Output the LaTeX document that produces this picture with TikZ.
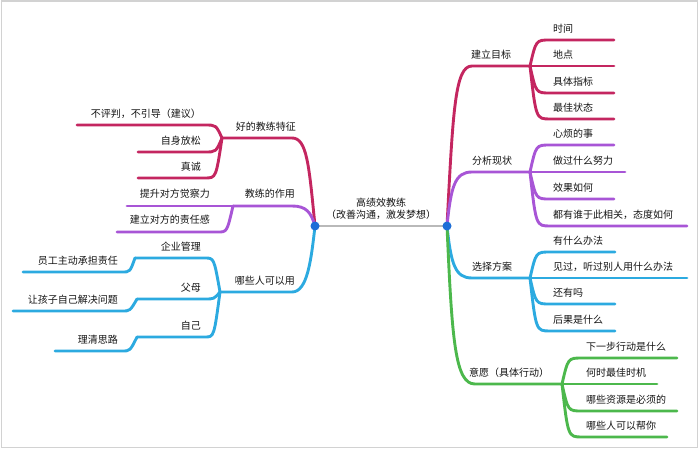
\documentclass[tikz,border=0pt]{standalone}
\usepackage{fontspec}
\setmainfont{Noto Sans CJK SC}
\usepackage{xcolor}
\definecolor{mapred}{RGB}{196,38,96}
\definecolor{mappurple}{RGB}{168,85,214}
\definecolor{mapblue}{RGB}{44,170,224}
\definecolor{mapgreen}{RGB}{76,184,76}
\definecolor{mapdot}{RGB}{30,110,215}
\definecolor{mapgray}{RGB}{185,185,185}
\definecolor{maptext}{RGB}{20,20,20}

\begin{document}
\begin{tikzpicture}[x=1pt,y=-1pt,
    br/.style={line width=2.9pt,line cap=round},
    lbl/.style={font=\fontsize{10}{12}\selectfont,text=maptext,inner sep=0pt}]
    \useasboundingbox (0,0) rectangle (700,452);
    \draw[gray!35,line width=1.2pt] (1.5,1) rectangle (697.5,447.5);

    % centre topic
    \coordinate (L) at (315,226);
    \coordinate (R) at (447,226);
    \draw[br,mapgray] (L) -- (R);
    \node[lbl,align=center] (topic) at (381,209) {高绩效教练\\（改善沟通，激发梦想）};

    % right: 建立目标
    \coordinate (goal) at (530,66);
    \draw[br,mapred] (R) .. controls (453,110) and (455,66) .. (472,66) -- (goal);
    \node[lbl,anchor=west] (goal-t) at (471,55) {建立目标};
    \foreach \y/\e/\t [count=\i] in {40/614/时间,66/614/地点,93/614/具体指标,119/614/最佳状态} {
        \coordinate (goal-\i) at (\e,\y);
        \draw[br,mapred] (goal) .. controls (536,\y) .. (550,\y) -- (goal-\i);
        \node[lbl,anchor=west] (goal-\i-t) at (553,\y-11) {\t};
    }

    % right: 分析现状
    \coordinate (now) at (530,172);
    \draw[br,mappurple] (R) .. controls (451,186) and (455,172) .. (472,172) -- (now);
    \node[lbl,anchor=west] (now-t) at (472,161) {分析现状};
    \foreach \y/\e/\t [count=\i] in {145/614/心烦的事,172/625/做过什么努力,199/614/效果如何,226/687/都有谁于此相关，态度如何} {
        \coordinate (now-\i) at (\e,\y);
        \draw[br,mappurple] (now) .. controls (536,\y) .. (550,\y) -- (now-\i);
        \node[lbl,anchor=west] (now-\i-t) at (553,\y-11) {\t};
    }

    % right: 选择方案
    \coordinate (plan) at (530,278);
    \draw[br,mapblue] (R) .. controls (451,264) and (455,278) .. (472,278) -- (plan);
    \node[lbl,anchor=west] (plan-t) at (472,267) {选择方案};
    \foreach \y/\e/\t [count=\i] in {252/615/有什么办法,278/687/见过，听过别人用什么办法,304/615/还有吗,331/615/后果是什么} {
        \coordinate (plan-\i) at (\e,\y);
        \draw[br,mapblue] (plan) .. controls (536,\y) .. (550,\y) -- (plan-\i);
        \node[lbl,anchor=west] (plan-\i-t) at (553,\y-11) {\t};
    }

    % right: 意愿
    \coordinate (will) at (562,384);
    \draw[br,mapgreen] (R) .. controls (452,340) and (455,384) .. (475,384) -- (will);
    \node[lbl,anchor=west] (will-t) at (469,373) {意愿（具体行动）};
    \foreach \y/\e/\t [count=\i] in {358/677/下一步行动是什么,384/657/何时最佳时机,411/677/哪些资源是必须的,437/667/哪些人可以帮你} {
        \coordinate (will-\i) at (\e,\y);
        \draw[br,mapgreen] (will) .. controls (568,\y) .. (582,\y) -- (will-\i);
        \node[lbl,anchor=west] (will-\i-t) at (586,\y-11) {\t};
    }

    % left: 好的教练特征
    \coordinate (trait) at (222,138);
    \draw[br,mapred] (L) .. controls (309,165) and (307,138) .. (292,138) -- (trait);
    \node[lbl,anchor=east] (trait-t) at (296,127) {好的教练特征};
    \foreach \y/\e/\t [count=\i] in {125/77/不评判，不引导（建议）,152/138/自身放松,178/138/真诚} {
        \coordinate (trait-\i) at (\e,\y);
        \draw[br,mapred] (trait) .. controls (216,\y) .. (205,\y) -- (trait-\i);
        \node[lbl,anchor=east] (trait-\i-t) at (201,\y-11) {\t};
    }

    % left: 教练的作用
    \coordinate (role) at (233,206);
    \draw[br,mappurple] (L) .. controls (311,212) and (306,206) .. (292,206) -- (role);
    \node[lbl,anchor=east] (role-t) at (295,194) {教练的作用};
    \foreach \y/\e/\t [count=\i] in {206/127/提升对方觉察力,232/117/建立对方的责任感} {
        \coordinate (role-\i) at (\e,\y);
        \draw[br,mappurple] (role) .. controls (227,\y) .. (218,\y) -- (role-\i);
        \node[lbl,anchor=east] (role-\i-t) at (210,\y-12) {\t};
    }

    % left: 哪些人可以用
    \coordinate (who) at (220,292);
    \draw[br,mapblue] (L) .. controls (311,262) and (307,292) .. (292,292) -- (who);
    \node[lbl,anchor=east] (who-t) at (295,281) {哪些人可以用};
    \foreach \y/\b/\t [count=\i] in {258/135/企业管理,299/137/父母,337/137/自己} {
        \coordinate (who-\i) at (\b,\y);
        \draw[br,mapblue] (who) .. controls (214,\y) .. (205,\y) -- (who-\i);
        \node[lbl,anchor=east] (who-\i-t) at (201,\y-11) {\t};
    }
    \foreach \e/\s [count=\i] in {23/272,13/311,55/351} {
        \coordinate (who-\i-end) at (\e,\s);
        \draw[br,mapblue] (who-\i) .. controls (130,\s) .. (122,\s) -- (who-\i-end);
    }
    \node[lbl,anchor=east] (who-1-s) at (118,261) {员工主动承担责任};
    \node[lbl,anchor=east] (who-2-s) at (118,300) {让孩子自己解决问题};
    \node[lbl,anchor=east] (who-3-s) at (118,340) {理清思路};

    % junction dots
    \fill[mapdot] (L) circle (4.5);
    \fill[mapdot] (R) circle (4.5);
\end{tikzpicture}
\end{document}
